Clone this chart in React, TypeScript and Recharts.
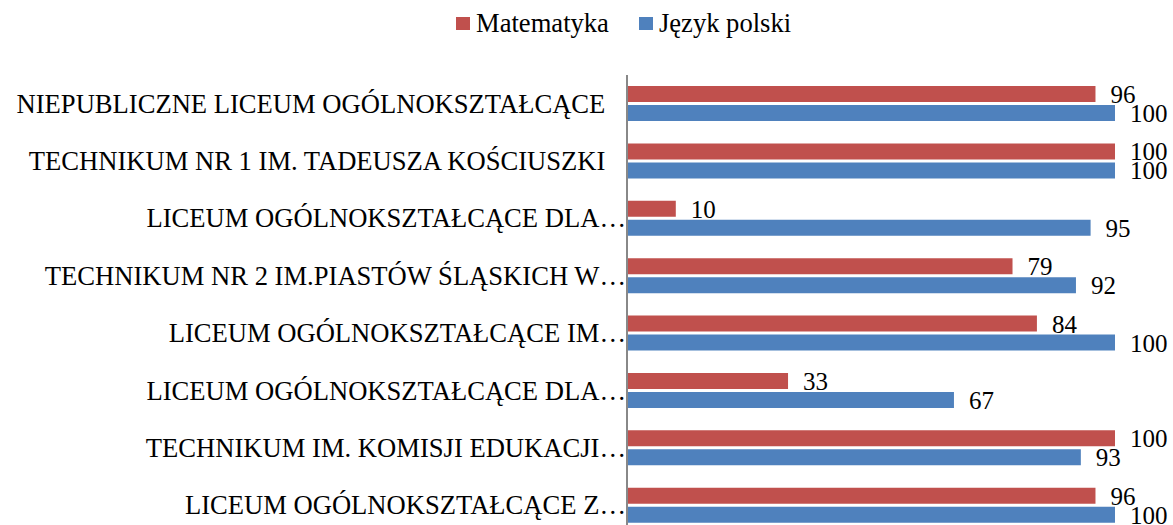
import React from 'react';
import { BarChart, Bar, XAxis, YAxis, Legend, LabelList } from 'recharts';

const schools = [
  'NIEPUBLICZNE LICEUM OGÓLNOKSZTAŁCĄCE ',
  'TECHNIKUM NR 1 IM. TADEUSZA KOŚCIUSZKI ',
  'LICEUM OGÓLNOKSZTAŁCĄCE DLA…',
  'TECHNIKUM NR 2 IM.PIASTÓW ŚLĄSKICH W…',
  'LICEUM OGÓLNOKSZTAŁCĄCE IM…',
  'LICEUM OGÓLNOKSZTAŁCĄCE DLA…',
  'TECHNIKUM IM. KOMISJI EDUKACJI…',
  'LICEUM OGÓLNOKSZTAŁCĄCE Z…',
];
const matematyka = [96, 100, 10, 79, 84, 33, 100, 96];
const jezykPolski = [100, 100, 95, 92, 100, 67, 93, 100];

const RED = '#C0504D';
const BLUE = '#4F81BD';
const FONT = "'Liberation Serif', 'Times New Roman', serif";

const data = schools.map((name, i) => ({
  id: i,
  name,
  mat: matematyka[i],
  pol: jezykPolski[i],
}));

const ValueLabel = (props: any) => {
  const { x, y, width, height, value } = props;
  return (
    <text x={x + width + 15} y={y + height / 2 + 0.5} dominantBaseline="central" fontSize={25} fontFamily={FONT} fill="#000">
      {value}
    </text>
  );
};

const SchoolTick = (props: any) => {
  const { y, payload } = props;
  const label = schools[payload.value];
  // labels with a trailing space sit further from the axis
  const x = label.endsWith(' ') ? 612 : 626;
  return (
    <text x={x} y={y} textAnchor="end" dominantBaseline="central" fontSize={26.6} fontFamily={FONT} fill="#000" style={{ whiteSpace: 'pre' }}>
      {label}
    </text>
  );
};

const LegendBox = () => (
  <div style={{ display: 'flex', alignItems: 'center', height: 46, paddingLeft: 456, fontFamily: FONT, fontSize: 26.6, lineHeight: '46px', color: '#000' }}>
    {[
      { c: RED, t: 'Matematyka' },
      { c: BLUE, t: 'Język polski' },
    ].map((it) => (
      <div key={it.t} style={{ display: 'flex', alignItems: 'center', marginRight: 30 }}>
        <span style={{ width: 14, height: 13, background: it.c, marginRight: 6, display: 'inline-block' }} />
        {it.t}
      </div>
    ))}
  </div>
);

export default function App() {
  return (
    <div style={{ position: 'fixed', top: 0, left: 0, width: 1173, height: 525, overflow: 'hidden', background: '#fff' }}>
      <BarChart
        width={1173}
        height={545}
        data={data}
        layout="vertical"
        barSize={16}
        barGap={3}
        margin={{ top: 29, right: 58, bottom: 11, left: 0 }}
      >
        <XAxis type="number" domain={[0, 100]} hide />
        <YAxis
          type="category"
          dataKey="id"
          width={627}
          axisLine={{ stroke: '#888', strokeWidth: 2 }}
          tickLine={false}
          tick={<SchoolTick />}
          interval={0}
        />
        <Legend verticalAlign="top" align="left" content={<LegendBox />} wrapperStyle={{ top: 0, left: 0, width: 1173 }} />
        <Bar dataKey="mat" name="Matematyka" fill={RED} isAnimationActive={false}>
          <LabelList dataKey="mat" content={<ValueLabel />} />
        </Bar>
        <Bar dataKey="pol" name="Język polski" fill={BLUE} isAnimationActive={false}>
          <LabelList dataKey="pol" content={<ValueLabel />} />
        </Bar>
      </BarChart>
    </div>
  );
}
